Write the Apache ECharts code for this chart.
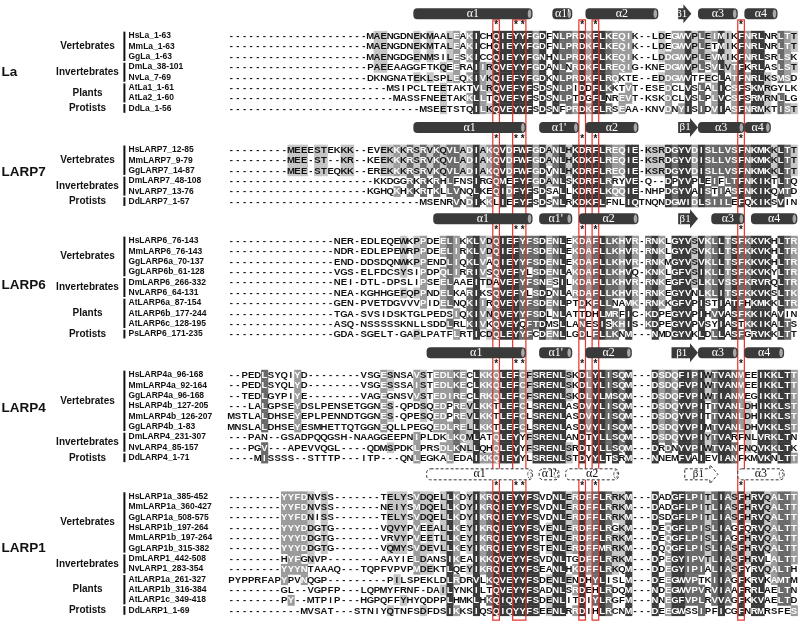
<!DOCTYPE html>
<html><head><meta charset="utf-8">
<script src="https://cdn.jsdelivr.net/npm/echarts@6/dist/echarts.min.js"></script>
<style>html,body{margin:0;padding:0;background:#fff}#c{width:800px;height:622px}</style>
</head><body><div id="c"></div>
<script>
// ---------------- DATA ----------------
const NCOL = 86;
const blockLabels = ['La', 'LARP7', 'LARP6', 'LARP4', 'LARP1'];

const laNames = ['HsLa_1-63','MmLa_1-63','GgLa_1-63','DmLa_38-101','NvLa_7-69','AtLa1_1-61','AtLa2_1-60','DdLa_1-56'];
const laGroups = [['Vertebrates',3],['Invertebrates',2],['Plants',2],['Protists',1]];
const laSeqs = [
 'MAENGDNEKMAALEAKICHQIEYYFGDFNLPRDKFLKEQIK--LDEGWVPLEIMIKFNRLNRLTT',
 'MAENGDNEKMTALEAKICHQIEYYFGDFNLPRDKFLKEQIK--LDEGWVPLETMIKFNRLNRLTT',
 'MAENGDGENMSILESKICCQIEYYFGNHNLPRDKFLKEQIK--LDDGWVPLEVMIKFNRLSRLSK',
 'PAEEAAGGFTKQEERAIIRQVEYYFGDANLNRDKFLREQIG-KNEDGWVPLSVLVTFKRLASLST',
 'DKNGNATEKLSPLEQKIVKQIEFYFGDKNLPRDKFLRQKTE--EDDGWVTFECLATFNRLKSMSD',
 'MSIPCLTEETAKTVLRQVEFYFSDSNLPIDDFLKKTVT-ESEDCLVSLALICSFSKMRGYLK',
 'MASSFNEETAKKLLTQVEFYFSDSNLPTDGFLNREVT-KSKDCLVSLPLVCSFSRMRNLLG',
 'MSEETSTQILKQVEYYFSDSNFPRDKFLRSEAA-KNVDNYISIDVIASFNRMKTIST'
];
const laSS = [['α1',28,45,'h'],["α1'",49,51,'h'],['α2',54,64,'h'],['β1',68,69,'s'],['α3',71,76,'h'],['α4',78,82,'h']];

const larp7Names = ['HsLARP7_12-85','MmLARP7_9-79','GgLARP7_14-87','DmLARP7_48-108','NvLARP7_13-76','DdLARP7_1-57'];
const larp7Groups = [['Vertebrates',3],['Invertebrates',2],['Protists',1]];
const larp7Seqs = [
 'MEEESTEKKK--EVEKKKRSRVKQVLADIAKQVDFWFGDANLHKDRFLREQIE-KSRDGYVDISLLVSFNKMKKLTT',
 'MEE-ST--KR--KEEKKKRSRVKQVLADIAKQVDFWFGDANLHKDKFLREQIE-KSRDGYVDISLLVSFNKMKKLTT',
 'MEE-STEQKK--EREKKKRSRVKQVLADIAKQVDFWFGDVNLHKDRFLREQIE-KSRDGYVDISLLVSFNKMKKLTT',
 'KKDGGRKRKRHLFNSIRGQMEFYFGDANLSKDRFLRRYVE-Q--DPYVPLEIFLTFNKIKTLTQ',
 'KGHQKHKKRTKLLVNQLKEQIDFYFSDSALLKDRFLKQQIE-NHPDGYVAISTIASFNKIKQMTD',
 'MSENRVNDIKKLIEFYFSDSNLRKDKFLFNLIQTNQNDGWIDLSIILEFQKIKSVIN'
];
const larp7SS = [['α1',28,44,'h'],["α1'",47,52,'h'],['α2',54,61,'h'],['β1',68,70,'s'],['α3',71,77,'h'],['α4',78,81,'h']];

const larp6Names = ['HsLARP6_76-143','MmLARP6_76-143','GgLARP6a_70-137','GgLARP6b_61-128','DmLARP6_266-332','NvLARP6_64-131','AtLARP6a_87-154','AtLARP6b_177-244','AtLARP6c_128-195','PsLARP6_171-235'];
const larp6Groups = [['Vertebrates',4],['Invertebrates',2],['Plants',3],['Protists',1]];
const larp6Seqs = [
 'NER-EDLEQEWKPPDEELIKKLVDQIEFYFSDENLEKDAFLLKHVR-RNKLGYVSVKLLTSFKKVKHLTR',
 'NDR-EDLEPEWRPPDEELIRKLVDQIEFYFSDENLEKDAFLLKHVR-RNKLGYVSVKLLTSFKKVKHLTR',
 'END-DDSDQNWKPPENDLIQKLVAQIEYYFSDENLEKDAFLLKHVR-RNKMGYVSVKLLTSFKKVKHLTR',
 'VGS-ELFDCSYSIPDPQLIRRIVSQVEFYLSDENLAKDAFLLKHVQ-KNKLGFVSIKLLTSFKKVKYLTR',
 'NEI-DTL-DPSLIPSEELAAEITDAVEFYFSNESILKDAFLLKHVR-RNKEGFVSLKLVSSFKRVRQLTR',
 'NEA-KGHHGEFQPPNDELKARIKSQVEFYLSDDNLARDAFLLKHVR-RNKEGYVNLKLITSFKKVKSLTK',
 'GEN-PVETDGVVVPIDELNQKIIRQVEYYFSDENLPTDKFLLNAMK-RNKKGFVPISTIATFHKMKKLTR',
 'TGA-SVSIDSKTGLPEDSIQKIVNQVEYYFSDLNLATTDHLMRFIC-KDPEGYVPIHVVASFKKIKAVIN',
 'ASQ-NSSSSSKNLLSDDLRLKIVKQVEYQFTDMSLLANESISKHIS-KDPEGYVPVSYIASTKKIKALTS',
 'GDA-SGELT-GAPLPATFLRTICDQLEYYFCDENLLGDLFLLKNM---NMDGYVKLDLLASFGRVKKLTT'
];
const larp6SS = [['α1',31,45,'h'],["α1'",47,51,'h'],['α2',53,61,'h'],['β1',68,70,'s'],['α3',73,77,'h'],['α4',79,85,'h']];

const larp4Names = ['HsLARP4a_96-168','MmLARP4a_92-164','GgLARP4a_96-168','HsLARP4b_127-205','MmLARP4b_126-207','GgLARP4b_1-83','DmLARP4_231-307','NvLARP4_85-157','DdLARP4_1-71'];
const larp4Groups = [['Vertebrates',6],['Invertebrates',2],['Protists',1]];
const larp4Seqs = [
 'PEDLSYQIYD--------VSGESNSAVSTEDLKECLKKQLEFCFSRENLSKDLYLISQM---DSDQFIPIWTVANMEEIKKLTT',
 'PEDLSYQLYD--------VSGESSSAISTEDLKECLKKQLEFCFSRENLSKDLYLISQM---DSDQFVPIWTVANMEEIKKLTT',
 'TEDLGYPIYE--------VAGEGNSVVSTEDIRECLRKQLEFCFSRENLSKDLYLMSQM---DSDQFVPIWTIANMEGIKKLTT',
 'LALGPSEYDSLPENSETGGNES-QPDSQEDPREVLKKTLEFCLSRENLASDVYLISQM---DSDQYVPITTVANLDHIKKLST',
 'MSTLALDHSEYEPLPENNDTGGNES-QPESQEDPREVLKKTLEFCLSRENLASDVYLISQM---DSDQYVPITTVANLDHIKKLST',
 'MNSLALDHSEYESMHETTQTGGNEQLLPEGQEDLRELLKKTLEFCLSRENLASDVYLISQM---DSDQYVPIMTVANLDHVKKLST',
 'PAN--GSADPQQGSH-NAAGGEEPNIPLDKLKQMLATQLEYYFSRENLANDTYLLSQM---DSDQYVPIYTVARFNLVRKLTN',
 'PGV---APEVVQGL----QDMSPDKLPRSDLKNLLQHQLEYYFSRENLSRDTYLLSQM---DRDNYVPIWTVANFNQVKKLTK',
 'MISSSS--STTTP---ITP---QNLEGKALEDAIKKQIEYYLSRENLSTDYYLTSRM---NNEMFVAIEVIANFKMVKNLTT'
];
const larp4SS = [['α1',30,44,'h'],["α1'",47,51,'h'],['α2',54,60,'h'],['β1',67,70,'s'],['α3',71,76,'h'],['α4',78,83,'h']];

const larp1Names = ['HsLARP1a_385-452','MmLARP1a_360-427','GgLARP1a_508-575','HsLARP1b_197-264','MmLARP1b_197-264','GgLARP1b_315-382','DmLARP1_442-508','NvLARP1_283-354','AtLARP1a_261-327','AtLARP1b_316-384','AtLARP1c_349-418','DdLARP1_1-69'];
const larp1Groups = [['Vertebrates',6],['Invertebrates',2],['Plants',3],['Protists',1]];
const larp1Seqs = [
 'YYFDNVSS-------TELYSVDQELLKDYIKRQIEYYFSVDNLERDFFLRRKM---DADGFLPITLIASFHRVQALTT',
 'YYFDNVSS-------NEIYSMDQELLKDYIKRQIEYYFSVDNLERDFFLRRKM---DADGFLPITLIASFHRVQALTT',
 'YYFDNISS-------TELYSVDQELLKDYIKRQIEYYFSVDNLERDFFLRRKM---DSDGFLPITLIASFHRVQALTT',
 'YYYDDGTG-------VQVYPVEEALLKEYIKRQIEYYFSVENLERDFFLRGKM---DEQGFLPISLIAGFQRVQALTT',
 'YYYDDGTG-------VRVYPVEETLLKEYIKRQIEYYFSTENLERDFFLRRKM---DEQGFLPISLIAGFHRVQALTT',
 'YYYDDGTG-------VQMYSVDEVLLKEYIKRQIEYYFSTENLERDFFMRRKM---DQQGFLPISLIASFHRVQALTT',
 'HYFGNVP--------AAYIELDANSIKEAIKKQVEYYFSVDNLTGDFFLRRKM---DPEGYIPVTLIASFHRVLALTT',
 'YYYNTAAAQ---TQPFVPVPMDEKTLQEYIKRQIEYYFSEANLHKDFFLRKQM---DDEGYIPIALIASFYRVQALTH',
 'PYPPRFAPYPVNQGP---------PILSPEKLDLRDRVLKQVEYYFSDENLENDHYLISLM---DEEGWVPTKIIAGFKRVKAMTM',
 'GL--VGPFP---LQPMYFRNF-DAILYNKILTQVEYYFSADNLSRDEHLRDQM---NDEGWVPVRVIAAFRRLAELTN',
 'PY--MTPIP---HGPQFFYHYQDPPLHMKLHKQIQYYFSDENLITDIYLRGFM---NNEGFVPLRVVAGFKKVAELTD',
 'MVSAT---STNIYQTNFSDFDSIKKSIQSQIQYYFSEENLRRDIHLRCNM---DEEGWSSIPFICGFNRMRSFES'
];
const larp1SS = [['α1',30,45,'h'],["α1'",47,49,'h'],['α2',51,58,'h'],['β1',69,73,'s'],['α3',77,83,'h']];

const starCols = [40, 43, 44, 53, 55, 77];
const boxCols = [[40,40],[43,44],[53,53],[55,55],[77,77]];

// ---------------- LAYOUT ----------------
const blocks = [
  {names: laNames, seqs: laSeqs, groups: laGroups, ss: laSS, dashed: false},
  {names: larp7Names, seqs: larp7Seqs, groups: larp7Groups, ss: larp7SS, dashed: false},
  {names: larp6Names, seqs: larp6Seqs, groups: larp6Groups, ss: larp6SS, dashed: false},
  {names: larp4Names, seqs: larp4Seqs, groups: larp4Groups, ss: larp4SS, dashed: false},
  {names: larp1Names, seqs: larp1Seqs, groups: larp1Groups, ss: larp1SS, dashed: true}
];
const blockTop = [0, 11, 19.8, 32.75, 44.5];
const groupLabelOff = [3.5, 2.15, 4.3, 3.2, 4.95];
const SS_OFF = -2.15, STAR_OFF = -1.0;
const BOX_Y = [-1.55, 56.43];
const X_NAME = -15.53, X_BAR = -16.15, X_SUB = -21.72, X_GROUP = -34.7;

const SIM = ['DN','EQ','ST','KR','FYW','LIVM'];
const grpOf = {};
SIM.forEach((g, i) => { for (const c of g) grpOf[c] = 'g' + i; });
const gid = c => grpOf[c] || c;

function fullRow(s) { return s.length >= NCOL ? s.slice(s.length - NCOL) : s.padStart(NCOL, '-'); }

function shadeBlock(rows) {
  const n = rows.length;
  const lv = rows.map(() => new Array(NCOL).fill(0));
  for (let c = 0; c < NCOL; c++) {
    const gc = {};
    rows.forEach(s => { const r = s[c]; if (r === '-') return; const g = gid(r); gc[g] = (gc[g] || 0) + 1; });
    let bestG = null, bestN = 0;
    for (const g in gc) if (gc[g] > bestN) { bestN = gc[g]; bestG = g; }
    const f = bestN / n;
    let level = 0;
    if (f >= 1) level = 4; else if (f >= 0.8) level = 3; else if (f >= 0.6) level = 2; else if (f >= 0.5) level = 1;
    rows.forEach((s, i) => { const r = s[c]; if (r !== '-' && gid(r) === bestG) lv[i][c] = level; });
  }
  return lv;
}

const LEVEL_BG = [null, '#c6c6c6', '#9b9b9b', '#6a6a6a', '#3a3a3a'];
const LEVEL_FG = ['#111', '#111', '#fff', '#fff', '#fff'];

const cells = [], labels = [], ssItems = [], stars = [];
blocks.forEach((b, bi) => {
  const rows = b.seqs.map(fullRow);
  const lv = shadeBlock(rows);
  const top = blockTop[bi];
  rows.forEach((s, i) => {
    for (let c = 0; c < NCOL; c++) cells.push({col: c, y: top + i, res: s[c], level: lv[i][c]});
    labels.push({kind: 'name', text: b.names[i], y: top + i});
  });
  let r = 0;
  b.groups.forEach(([g, cnt]) => {
    labels.push({kind: 'sub', text: g, y: top + r + (cnt - 1) / 2});
    labels.push({kind: 'bar', y: top + r - 0.42, y1: top + r + cnt - 1 + 0.42});
    r += cnt;
  });
  labels.push({kind: 'group', text: blockLabels[bi], y: top + groupLabelOff[bi]});
  b.ss.forEach(([lab, c0, c1, t]) => ssItems.push({lab, c0, c1, t, y: top + SS_OFF, dashed: b.dashed}));
  starCols.forEach(c => stars.push({col: c, y: top + STAR_OFF}));
});
const shaded = cells.filter(d => d.level > 0);

const FONT = '"Liberation Sans", Arial, sans-serif';
const cellFont = 'bold 9.5px ' + FONT;

const chart = echarts.init(document.getElementById('c'), null, {renderer: 'canvas'});
chart.setOption({
  animation: false,
  backgroundColor: '#fff',
  grid: {left: 228, top: 0, width: 569.32, height: 622},
  xAxis: {type: 'value', min: -0.5, max: 85.5, show: false},
  yAxis: {type: 'value', min: -3.478, max: 56.618, inverse: true, show: false},
  series: [
    {
      type: 'custom', z: 1, clip: false, progressive: 0,
      data: shaded.map(d => [d.col, d.y, d.level]),
      renderItem(params, api) {
        const p = api.coord([api.value(0), api.value(1)]);
        const w = api.size([1, 0])[0], h = api.size([0, 1])[1];
        return {type: 'rect', shape: {x: p[0] - w / 2, y: p[1] - h / 2, width: w + 0.5, height: h + 0.5}, style: {fill: LEVEL_BG[api.value(2)]}};
      }
    },
    {
      type: 'custom', z: 2, clip: false, progressive: 0,
      data: cells.map(d => [d.col, d.y, d.level]),
      renderItem(params, api) {
        const d = cells[params.dataIndex];
        const p = api.coord([d.col, d.y]);
        return {type: 'text', x: p[0], y: p[1] + 0.5, style: {text: d.res, fill: LEVEL_FG[d.level], font: cellFont, textAlign: 'center', textVerticalAlign: 'middle', align: 'center', verticalAlign: 'middle'}};
      }
    },
    {
      type: 'custom', z: 3, clip: false,
      data: boxCols.map(b => [b[0], BOX_Y[0]]),
      renderItem(params, api) {
        const b = boxCols[params.dataIndex];
        const p0 = api.coord([b[0] - 0.5, BOX_Y[0]]);
        const p1 = api.coord([b[1] + 0.5, BOX_Y[1]]);
        return {type: 'rect', shape: {x: p0[0], y: p0[1], width: p1[0] - p0[0], height: p1[1] - p0[1]}, style: {fill: 'none', stroke: '#e8332b', lineWidth: 1.2}};
      }
    },
    {
      type: 'custom', z: 4, clip: false,
      data: ssItems.map(s => [s.c0, s.y]),
      renderItem(params, api) {
        const s = ssItems[params.dataIndex];
        const a = api.coord([s.c0 - 0.5, s.y]);
        const e = api.coord([s.c1 + 0.5, s.y]);
        const x0 = a[0], x1 = e[0], yc = a[1];
        const dark = '#3a3a3a';
        const ch = [];
        const txtFill = s.dashed ? '#111' : '#fff';
        if (s.t === 'h') {
          const h = 11;
          ch.push({type: 'rect', shape: {x: x0, y: yc - h / 2, width: x1 - x0, height: h, r: 4}, style: s.dashed ? {fill: '#fff', stroke: '#333', lineWidth: 1, lineDash: [3, 2]} : {fill: dark}});
          if (!s.dashed) ch.push({type: 'ellipse', shape: {cx: x1 - 3, cy: yc, rx: 1.8, ry: h / 2 - 1.2}, style: {fill: '#a8a8a8'}});
          else ch.push({type: 'ellipse', shape: {cx: x1 - 3, cy: yc, rx: 1.8, ry: h / 2 - 1.5}, style: {fill: 'none', stroke: '#333', lineWidth: 0.8, lineDash: [2, 1.5]}});
          ch.push({type: 'text', x: (x0 + x1) / 2, y: yc, style: {text: s.lab, fill: txtFill, font: '12px "Liberation Serif", "Times New Roman", serif', textAlign: 'center', textVerticalAlign: 'middle', align: 'center', verticalAlign: 'middle'}});
        } else {
          const bh = 11, hh = 19, hl = 8;
          const pts = [[x0, yc - bh / 2], [x1 - hl, yc - bh / 2], [x1 - hl, yc - hh / 2], [x1, yc], [x1 - hl, yc + hh / 2], [x1 - hl, yc + bh / 2], [x0, yc + bh / 2]];
          ch.push({type: 'polygon', shape: {points: pts}, style: s.dashed ? {fill: '#fff', stroke: '#333', lineWidth: 1, lineDash: [3, 2]} : {fill: dark}});
          ch.push({type: 'text', x: (x0 + x1 - hl) / 2 + 1, y: yc, style: {text: s.lab, fill: txtFill, font: '11px "Liberation Serif", "Times New Roman", serif', textAlign: 'center', textVerticalAlign: 'middle', align: 'center', verticalAlign: 'middle'}});
        }
        return {type: 'group', children: ch};
      }
    },
    {
      type: 'custom', z: 5, clip: false,
      data: stars.map(s => [s.col, s.y]),
      renderItem(params, api) {
        const p = api.coord([api.value(0), api.value(1)]);
        return {type: 'text', x: p[0], y: p[1], style: {text: '*', fill: '#111', font: 'bold 10px ' + FONT, textAlign: 'center', textVerticalAlign: 'middle', align: 'center', verticalAlign: 'middle'}};
      }
    },
    {
      type: 'custom', z: 5, clip: false,
      data: labels.map(l => [0, l.y]),
      renderItem(params, api) {
        const l = labels[params.dataIndex];
        if (l.kind === 'bar') {
          const a = api.coord([X_BAR, l.y]), b = api.coord([X_BAR, l.y1]);
          return {type: 'line', shape: {x1: a[0], y1: a[1], x2: b[0], y2: b[1]}, style: {stroke: '#111', lineWidth: 2}};
        }
        const x = l.kind === 'name' ? X_NAME : l.kind === 'sub' ? X_SUB : X_GROUP;
        const p = api.coord([x, l.y]);
        const font = l.kind === 'name' ? 'bold 8.5px ' + FONT : l.kind === 'sub' ? 'bold 10px ' + FONT : 'bold 13.5px ' + FONT;
        const al = l.kind === 'sub' ? 'center' : 'left';
        return {type: 'text', x: p[0], y: p[1], style: {text: l.text, fill: '#111', font, textAlign: al, textVerticalAlign: 'middle', align: al, verticalAlign: 'middle'}};
      }
    }
  ]
});
</script></body></html>
